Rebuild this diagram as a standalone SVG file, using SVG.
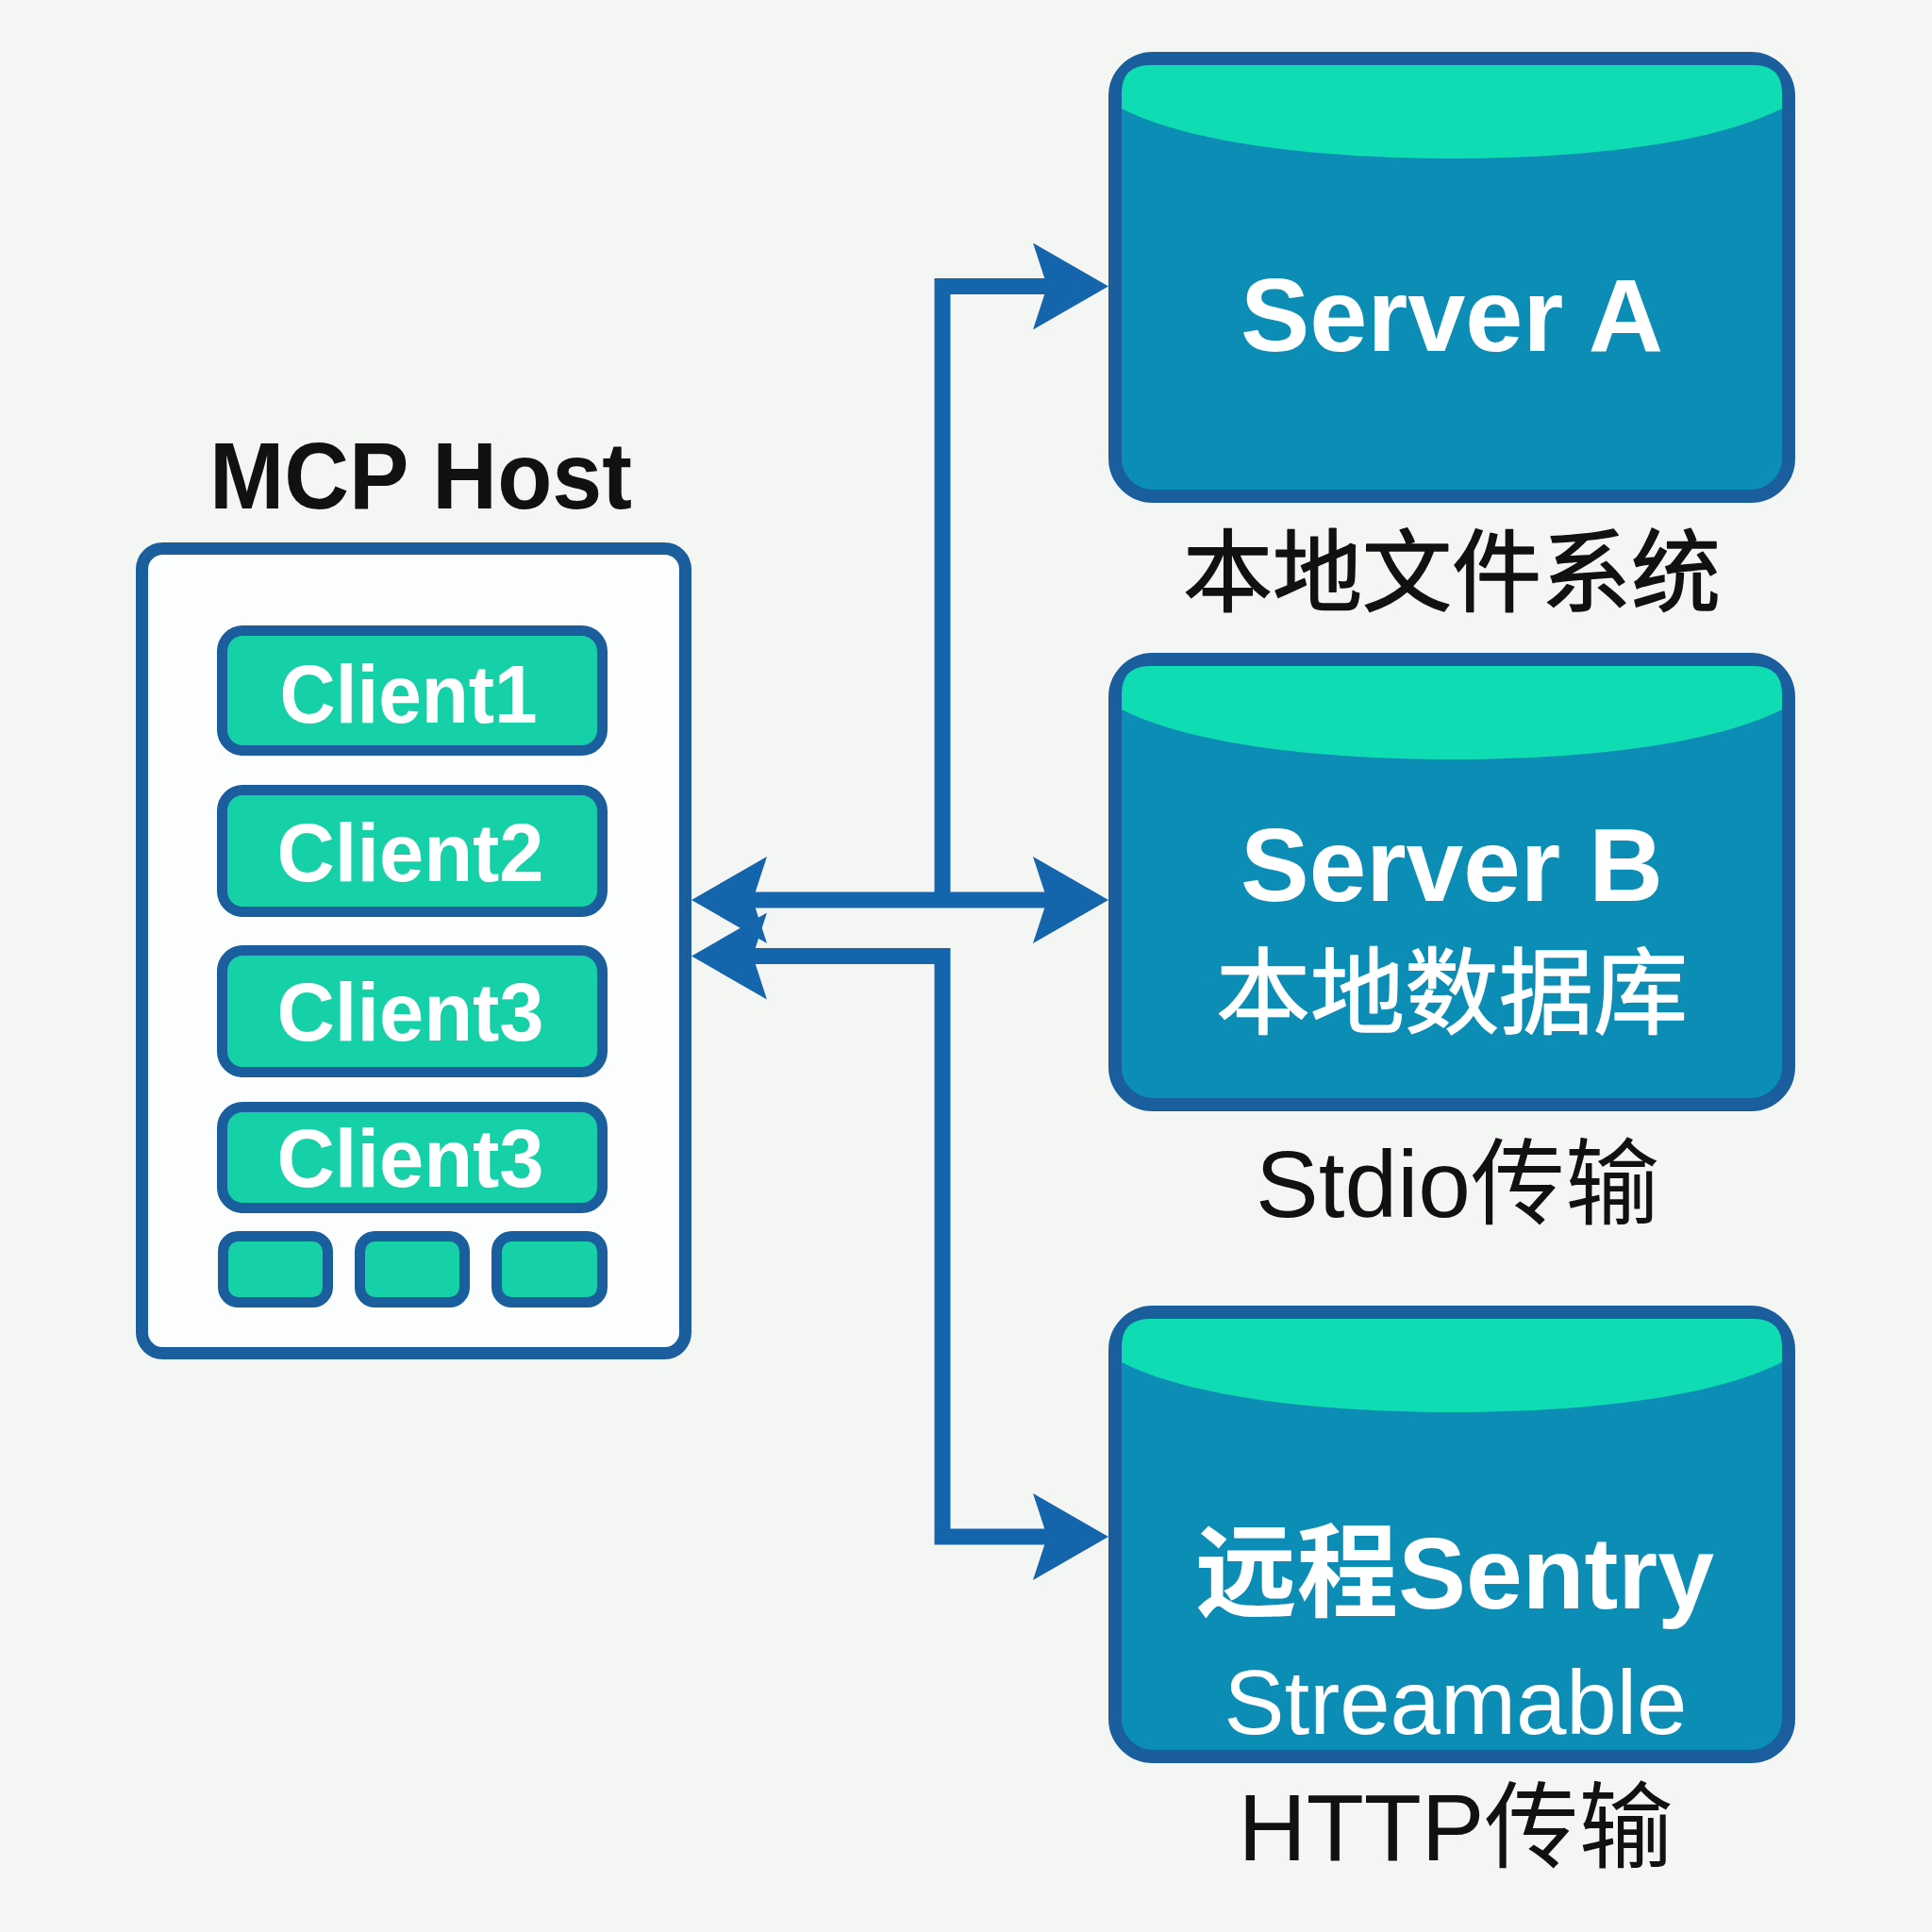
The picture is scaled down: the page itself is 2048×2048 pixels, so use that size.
<svg xmlns="http://www.w3.org/2000/svg" xmlns:xlink="http://www.w3.org/1999/xlink" width="2048" height="2048" viewBox="0 0 2048 2048">
  <style>
    .srv { fill: #0c8db5; stroke: #1a5e9e; stroke-width: 14; }
    .cap { fill: #10dcb4; }
    .cli { fill: #16d0a8; stroke: #1a5e9e; stroke-width: 11; }
    .host { fill: #fcfdfd; stroke: #1a5e9e; stroke-width: 13; }
    .conn { fill: none; stroke: #1565ad; stroke-width: 17; stroke-linejoin: miter; }
    .t { font-family: "Liberation Sans", Arial, "Noto Sans CJK SC", sans-serif; text-anchor: middle; }
    .wb { fill: #ffffff; font-weight: bold; }
    .wr { fill: #ffffff; }
    .blk { fill: #111111; }
    .fat { stroke-width: 1.5; stroke-linejoin: round; }
    .blk.fat { stroke: #111111; }
    .wr.fat { stroke: #ffffff; }
  </style>
  <defs>
    <marker id="arr" viewBox="0 0 80 92" refX="15" refY="46" markerWidth="80" markerHeight="92" markerUnits="userSpaceOnUse" orient="auto-start-reverse">
      <path d="M80,46 L0,0 L15,46 L0,92 Z" fill="#1565ad"/>
    </marker>
    <path id="cap" d="M14,60 V44 Q14,14 44,14 H684 Q714,14 714,44 V60 C640,98 500,113 364,113 C228,113 88,98 14,60 Z"/>
  </defs>

  <rect width="2048" height="2048" fill="#f4f6f4"/>

  <g id="mcp-host">
    <text class="t blk" x="446" y="539" font-size="100" font-weight="bold" textLength="448" lengthAdjust="spacingAndGlyphs">MCP Host</text>
    <rect class="host" x="150.5" y="581.5" width="576" height="853" rx="22"/>
  </g>

  <g id="client1">
    <rect class="cli" x="235.5" y="668.5" width="403" height="127" rx="22"/>
    <text class="t wb" x="433" y="766" font-size="88" textLength="273" lengthAdjust="spacingAndGlyphs">Client1</text>
  </g>
  <g id="client2">
    <rect class="cli" x="235.5" y="837.5" width="403" height="129" rx="22"/>
    <text class="t wb" x="435" y="934" font-size="88" textLength="283" lengthAdjust="spacingAndGlyphs">Client2</text>
  </g>
  <g id="client3">
    <rect class="cli" x="235.5" y="1007.5" width="403" height="129" rx="22"/>
    <text class="t wb" x="435" y="1103" font-size="88" textLength="283" lengthAdjust="spacingAndGlyphs">Client3</text>
  </g>
  <g id="client3b">
    <rect class="cli" x="235.5" y="1173.5" width="403" height="107" rx="22"/>
    <text class="t wb" x="435" y="1258" font-size="88" textLength="283" lengthAdjust="spacingAndGlyphs">Client3</text>
  </g>
  <g id="slot1"><rect class="cli" x="236.5" y="1310.5" width="111" height="70" rx="16"/></g>
  <g id="slot2"><rect class="cli" x="381.5" y="1310.5" width="111" height="70" rx="16"/></g>
  <g id="slot3"><rect class="cli" x="526.5" y="1310.5" width="112" height="70" rx="16"/></g>

  <g id="server-a">
    <rect class="srv" x="1182" y="62" width="714" height="464" rx="40"/>
    <use href="#cap" class="cap" transform="translate(1175,55)"/>
    <text class="t wb" x="1539" y="372" font-size="110" textLength="448" lengthAdjust="spacingAndGlyphs">Server A</text>
    <text class="t blk fat" x="1539" y="641" font-size="95">本地文件系统</text>
  </g>

  <g id="server-b">
    <rect class="srv" x="1182" y="699" width="714" height="472" rx="40"/>
    <use href="#cap" class="cap" transform="translate(1175,692)"/>
    <text class="t wb" x="1539" y="955" font-size="110" textLength="448" lengthAdjust="spacingAndGlyphs">Server B</text>
    <text class="t wr fat" x="1539" y="1088" font-size="100">本地数据库</text>
    <text class="t blk" x="1545" y="1290" font-size="100">Stdio传输</text>
  </g>

  <g id="server-c">
    <rect class="srv" x="1182" y="1391" width="714" height="471" rx="40"/>
    <use href="#cap" class="cap" transform="translate(1175,1384)"/>
    <text class="t wb" x="1542" y="1705" font-size="108" textLength="550" lengthAdjust="spacingAndGlyphs">远程Sentry</text>
    <text class="t wr" x="1543" y="1838" font-size="96">Streamable</text>
    <text class="t blk" x="1543" y="1972" font-size="100">HTTP传输</text>
  </g>

  <g id="connectors">
    <path class="conn" d="M999,962 V303.5 H1110" marker-end="url(#arr)"/>
    <path class="conn" d="M798,954 H1110" marker-start="url(#arr)" marker-end="url(#arr)"/>
    <path class="conn" d="M798,1013.5 H999 V1629 H1110" marker-start="url(#arr)" marker-end="url(#arr)"/>
  </g>
</svg>
